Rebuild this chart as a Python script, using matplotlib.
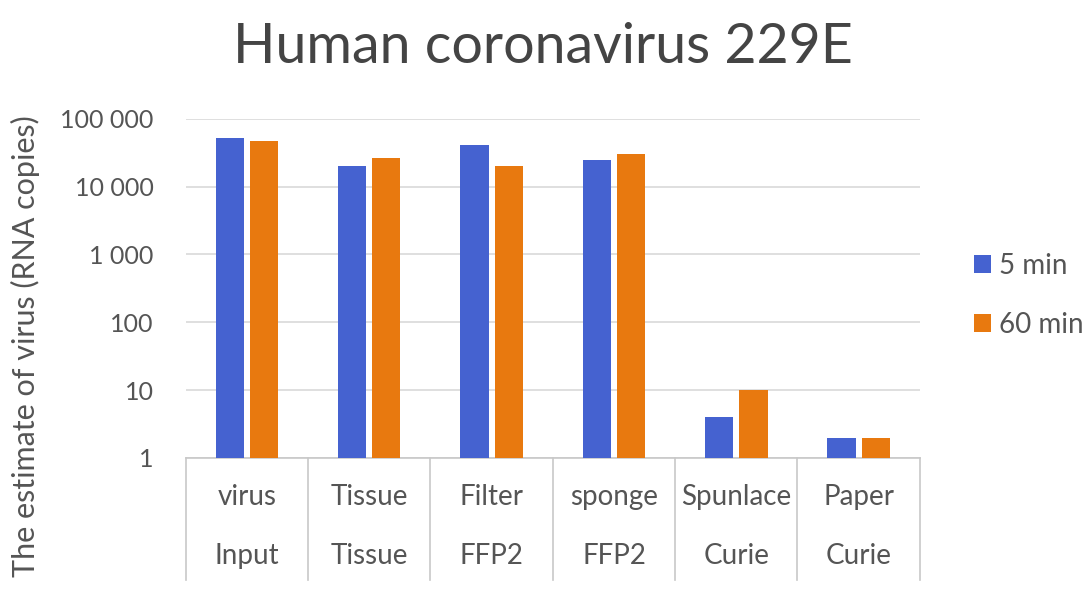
import numpy as np
import matplotlib.pyplot as plt
from matplotlib.ticker import FixedLocator, NullLocator

plt.rcParams['font.family'] = ['Lato', 'DejaVu Sans']

top_labels = ["virus", "Tissue", "Filter", "sponge", "Spunlace", "Paper"]
bottom_labels = ["Input", "Tissue", "FFP2", "FFP2", "Curie", "Curie"]
min5 = [52000, 20000, 41000, 25000, 4, 2]
min60 = [47000, 26000, 20000, 30000, 10, 2]
series_names = ["5 min", "60 min"]
yticks = [1, 10, 100, 1000, 10000, 100000]
ytick_labels = ["1", "10", "100", "1 000", "10 000", "100 000"]

txt = "#555555"
line_c = "#c8c8c8"

fig = plt.figure(figsize=(10.86, 5.94), dpi=100)
ax = fig.add_axes([0.171, 0.229, 0.676, 0.571])

x = np.arange(len(top_labels))
w = 0.23
ax.bar(x - 0.14, min5, width=w, color="#4562d0", label=series_names[0], zorder=3)
ax.bar(x + 0.14, min60, width=w, color="#e8790f", label=series_names[1], zorder=3)

ax.set_yscale("log")
ax.set_ylim(1, 100000)
ax.set_xlim(-0.5, len(top_labels) - 0.5)
ax.yaxis.set_major_locator(FixedLocator(yticks))
ax.yaxis.set_minor_locator(NullLocator())
ax.set_yticklabels(ytick_labels)
ax.tick_params(axis="y", length=0, pad=23, labelsize=18, labelcolor=txt)
ax.set_xticks([])
ax.grid(axis="y", color="#d9d9d9", linewidth=1.2, zorder=0)
for s in ["top", "right", "left"]:
    ax.spines[s].set_visible(False)
ax.spines["bottom"].set_color(line_c)
ax.spines["bottom"].set_linewidth(1.2)

# category table under the axis
tr = ax.get_xaxis_transform()
for b in np.arange(-0.5, len(top_labels), 1.0):
    ax.plot([b, b], [0, -0.36], color=line_c, lw=1.2, transform=tr, clip_on=False)
for i in range(len(top_labels)):
    ax.text(i, -0.115, top_labels[i], transform=tr, ha="center", va="center",
            fontsize=20, color=txt)
    ax.text(i, -0.29, bottom_labels[i], transform=tr, ha="center", va="center",
            fontsize=20, color=txt)

ax.set_ylabel("The estimate of virus (RNA copies)", fontsize=22, color=txt)
ax.yaxis.set_label_coords(-0.198, 0.33)
fig.text(0.5, 0.92, "Human coronavirus 229E", ha="center", va="center",
         fontsize=40, color="#444444")

ax.legend(loc="center left", bbox_to_anchor=(1.074, 0.48), frameon=False,
          borderaxespad=0, borderpad=0,
          fontsize=20, labelcolor=txt, handlelength=0.6, handleheight=0.6,
          handletextpad=0.3, labelspacing=1.2)

fig.savefig("out.png", dpi=100)
